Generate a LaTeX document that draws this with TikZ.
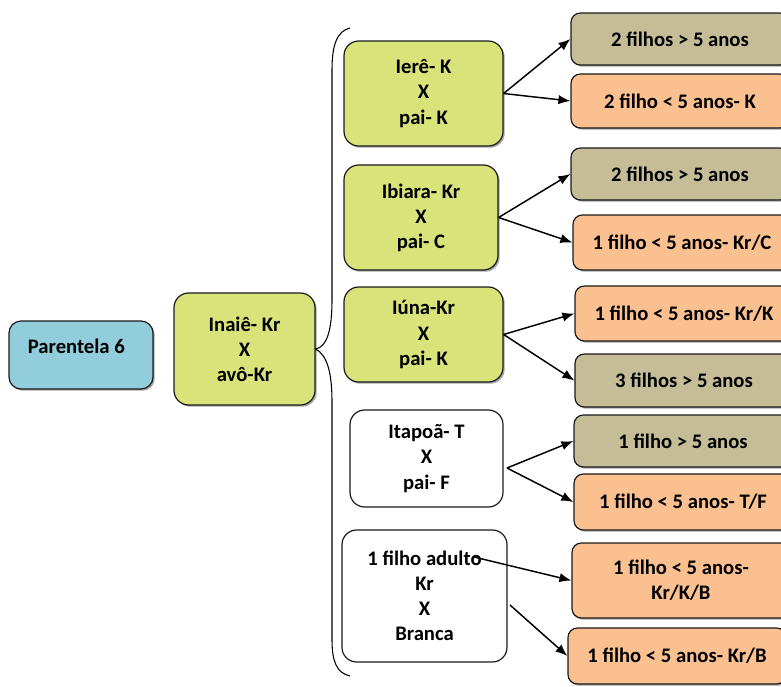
\documentclass[tikz,border=0pt]{standalone}
\usepackage{fontspec}
\setmainfont{Carlito}
\usetikzlibrary{shadows,arrows.meta}
\definecolor{parblue}{HTML}{92CDDC}
\definecolor{couplegreen}{HTML}{D8E37A}
\definecolor{khaki}{HTML}{C4BD97}
\definecolor{peach}{HTML}{FAC090}
\definecolor{edge}{HTML}{1A1A1A}
\begin{document}
\begin{tikzpicture}[x=0.75pt,y=-0.75pt,
  font=\fontsize{15.5}{18.8}\selectfont\bfseries,
  wh/.style 2 args={minimum width=#1*0.75pt, minimum height=#2*0.75pt},
  base/.style={draw=edge, line width=0.9pt, align=center, inner sep=0pt},
  shade/.style={drop shadow={shadow xshift=1.3pt, shadow yshift=-1.3pt, opacity=0.35, fill=black}},
  rootbox/.style={base, shade, rounded corners=9pt, fill=parblue},
  couplebox/.style={base, shade, rounded corners=11pt, fill=couplegreen},
  plainbox/.style={base, rounded corners=11pt, fill=white},
  olderbox/.style={base, shade, rounded corners=7pt, fill=khaki},
  youngbox/.style={base, shade, rounded corners=7pt, fill=peach},
  arr/.style={-{Latex[length=9pt,width=7pt]}, line width=1.1pt},
  bracket/.style={line width=0.8pt}
]
\useasboundingbox (0,0) rectangle (781,686);
\clip (0,0) rectangle (781,686);

% root and grandparents
\node[rootbox, wh={144}{68}, text height=11pt, text depth=13pt] (root) at (81,355) {Parentela 6\hspace*{7pt}};
\node[couplebox, wh={141}{112}] (inaie) at (244.5,349) {Inaiê- Kr\\X\\avô-Kr};

% children and their partners
\node[couplebox, wh={159}{105}] (iere) at (423.5,93.5) {Ierê- K\\X\\pai- K};
\node[couplebox, wh={154}{105}] (ibiara) at (421,217.5) {Ibiara- Kr\\X\\pai- C};
\node[couplebox, wh={159}{95}] (iuna) at (423.5,334.5) {Iúna-Kr\\X\\pai- K};
\node[plainbox, wh={153}{97}] (itapoa) at (426.5,458.5) {Itapoã- T\\X\\pai- F};
\node[plainbox, wh={165}{132}] (adulto) at (424.5,596) {1 filho adulto\\Kr\\X\\Branca};

% grandchildren
\node[olderbox, wh={218}{52}] (g1) at (680,39) {2 filhos > 5 anos};
\node[youngbox, wh={218}{54}] (g2) at (680,101) {2 filho < 5 anos- K};
\node[olderbox, wh={218}{52}] (g3) at (680,174) {2 filhos > 5 anos};
\node[youngbox, wh={218}{55}] (g4) at (682,242.5) {1 filho < 5 anos- Kr/C};
\node[youngbox, wh={218}{55}] (g5) at (684,313.5) {1 filho < 5 anos- Kr/K};
\node[olderbox, wh={218}{53}] (g6) at (684,380.5) {3 filhos > 5 anos};
\node[olderbox, wh={218}{52}] (g7) at (683,441) {1 filho > 5 anos};
\node[youngbox, wh={218}{56}] (g8) at (683,502) {1 filho < 5 anos- T/F};
\node[youngbox, wh={218}{75}] (g9) at (681,580.5) {1 filho < 5 anos-\\Kr/K/B};
\node[youngbox, wh={218}{56}] (g10) at (677,656) {1 filho < 5 anos- Kr/B};

% curly bracket grouping the children
\coordinate (btop) at (350,28);
\coordinate (bbot) at (350,676);
\draw[bracket] (btop) .. controls (337,31) and (332,45) .. (332,70)
  -- (332,300) .. controls (332,330) and (327,347) .. (inaie.east)
  .. controls (327,355) and (332,372) .. (332,402)
  -- (332,640) .. controls (332,662) and (337,673) .. (bbot);

% connectors to grandchildren
\draw[arr] (iere.east) -- (g1.west);
\draw[arr] (iere.east) -- (g2.west);
\draw[arr] (ibiara.east) -- (g3.west);
\draw[arr] (ibiara.east) -- (g4.west);
\draw[arr] (iuna.east) -- (g5.west);
\draw[arr] (iuna.east) -- (g6.west);
\coordinate (itapoaout) at (507,468);
\draw[arr] (itapoaout) -- (g7.west);
\draw[arr] (itapoaout) -- (g8.west);
\coordinate (adultoA) at (474,557);
\coordinate (adultoB) at (510,605);
\draw[arr] (adultoA) -- (g9.west);
\draw[arr] (adultoB) -- (g10.west);
\end{tikzpicture}
\end{document}
